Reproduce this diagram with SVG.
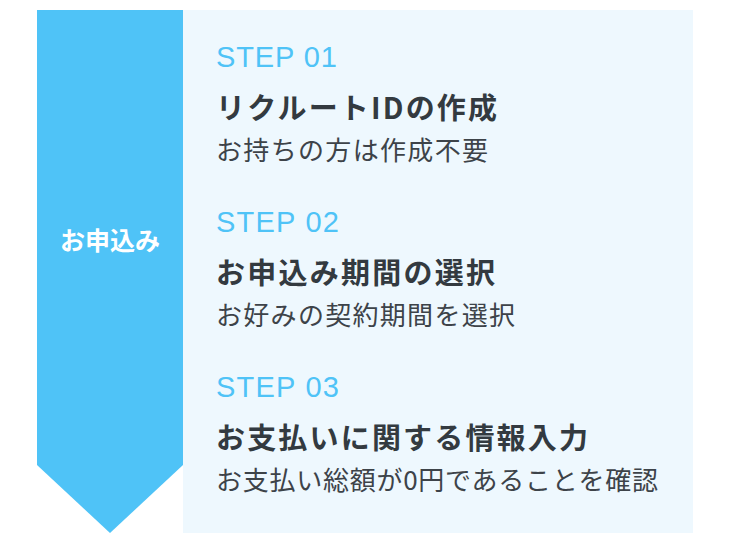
<svg xmlns="http://www.w3.org/2000/svg" width="730" height="539" viewBox="0 0 730 539">
<style>
text{font-family:"Noto Sans CJK JP","Noto Sans",sans-serif}
.s{fill:#4fc3f7;font-size:29px;font-family:"Liberation Sans",sans-serif}
.t{fill:#333a40;font-size:29px;font-weight:bold}
.d{fill:#3d4349;font-size:26px}
</style>
<rect x="0" y="0" width="730" height="539" fill="#fff"/>
<g id="panel"><rect x="183" y="10" width="510" height="523" fill="#eef8fe"/></g>
<g id="arrow"><polygon points="37,10 183,10 183,465 110,533 37,465" fill="#4fc3f7"/>
<text x="110" y="250" text-anchor="middle" fill="#fff" font-size="25" font-weight="bold">お申込み</text></g>
<g id="step1"><text class="s" x="216" y="67" textLength="121">STEP 01</text><text class="t" x="216" y="119" textLength="281">リクルートIDの作成</text><text class="d" x="216" y="160" textLength="272">お持ちの方は作成不要</text></g>
<g id="step2"><text class="s" x="216" y="232" textLength="123">STEP 02</text><text class="t" x="216" y="284" textLength="279">お申込み期間の選択</text><text class="d" x="216" y="325" textLength="299">お好みの契約期間を選択</text></g>
<g id="step3"><text class="s" x="216" y="397" textLength="123">STEP 03</text><text class="t" x="216" y="449" textLength="372">お支払いに関する情報入力</text><text class="d" x="216" y="490" textLength="442">お支払い総額が0円であることを確認</text></g>
<g id="connectors"/>
</svg>
